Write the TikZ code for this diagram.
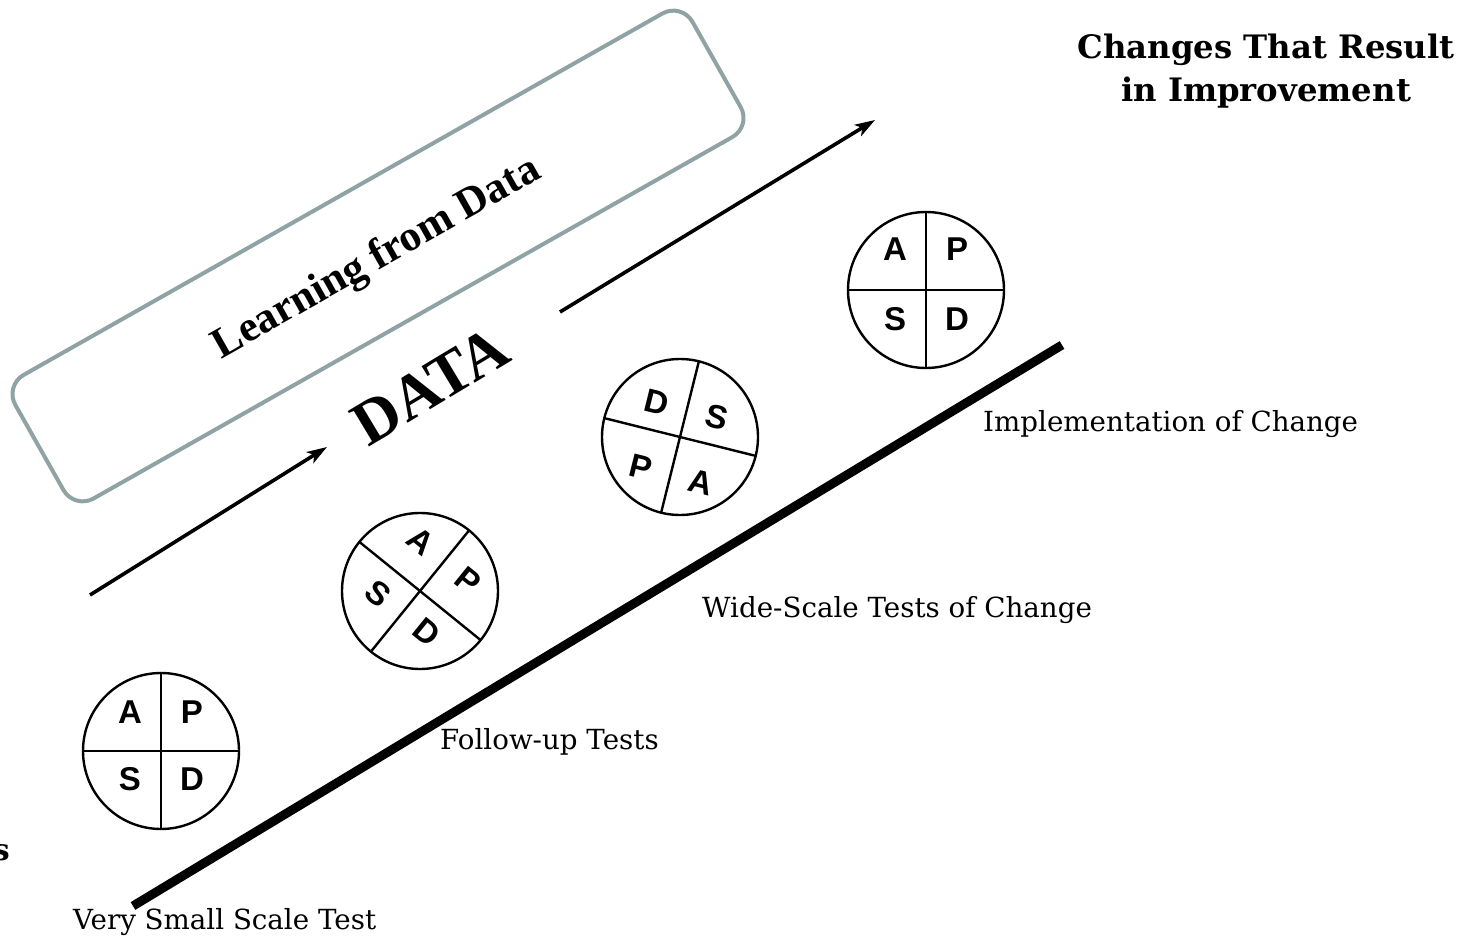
\documentclass[tikz,border=0pt]{standalone}
\usepackage{fontspec}
\usetikzlibrary{arrows.meta}
\newfontfamily\labelfont{DejaVu Serif}
\newfontfamily\timesfont{Liberation Serif}
\newfontfamily\arialfont{Liberation Sans}
\definecolor{boxgray}{HTML}{8FA3A5}
\tikzset{
  stagelabel/.style={font=\labelfont\fontsize{27.7}{32}\selectfont, inner sep=0pt},
  pdsaring/.style={circle, draw, line width=2.4pt, minimum size=156pt, inner sep=0pt},
  pdsaletter/.style={font=\arialfont\bfseries\fontsize{33}{36}\selectfont, inner sep=0pt},
  flowarrow/.style={line width=3.6pt, -{Stealth[length=20pt, width=13pt, inset=5pt]}},
}
\begin{document}
\begin{tikzpicture}[x=1pt, y=-1pt]
\useasboundingbox (0,0) rectangle (1470,944);

% rounded box with the learning caption
\node[draw=boxgray, line width=4pt, rounded corners=22pt, minimum width=778pt,
      minimum height=142pt, rotate=29.5] (learnbox) at (378,256) {};
\node[font=\timesfont\bfseries\fontsize{43}{46}\selectfont, rotate=29.5, inner sep=0pt]
      (learn) at (377,259) {Learning from Data};

% DATA label and the two flow arrows
\node[font=\timesfont\bfseries\fontsize{63}{66}\selectfont, rotate=31, inner sep=0pt]
      (data) at (430,386) {DATA};
\coordinate (a1s) at (90,595);
\coordinate (a1e) at (327,447);
\coordinate (a2s) at (560,312);
\coordinate (a2e) at (875,120);
\draw[flowarrow] (a1s) -- (a1e);
\draw[flowarrow] (a2s) -- (a2e);

% thick baseline of the ramp
\coordinate (rampS) at (133,906);
\coordinate (rampE) at (1062,345);
\draw[line width=9pt] (rampS) -- (rampE);

% cycle 1: very small scale test
\begin{scope}[shift={(161,751)}]
  \node[pdsaring] (c1) at (0,0) {};
  \draw[line width=2.4pt] (c1.north) -- (c1.south) (c1.west) -- (c1.east);
  \node[pdsaletter] (c1a) at (-31,-39) {A};
  \node[pdsaletter] (c1p) at (31,-39) {P};
  \node[pdsaletter] (c1s) at (-31,28) {S};
  \node[pdsaletter] (c1d) at (31,28) {D};
\end{scope}

% cycle 2: follow-up tests
\begin{scope}[shift={(420,591)}, rotate=-39]
  \node[pdsaring] (c2) at (0,0) {};
  \draw[line width=2.4pt] (0,-78) -- (0,78) (-78,0) -- (78,0);
  \node[pdsaletter, transform shape] (c2a) at (-31,-39) {A};
  \node[pdsaletter, transform shape] (c2p) at (31,-39) {P};
  \node[pdsaletter, transform shape] (c2s) at (-31,28) {S};
  \node[pdsaletter, transform shape] (c2d) at (31,28) {D};
\end{scope}

% cycle 3: wide-scale tests
\begin{scope}[shift={(680,437)}, rotate=-194]
  \node[pdsaring] (c3) at (0,0) {};
  \draw[line width=2.4pt] (0,-78) -- (0,78) (-78,0) -- (78,0);
  \node[pdsaletter, rotate=-14] (c3a) at (-31,-39) {A};
  \node[pdsaletter, rotate=-14] (c3p) at (31,-39) {P};
  \node[pdsaletter, rotate=-14] (c3s) at (-31,28) {S};
  \node[pdsaletter, rotate=-14] (c3d) at (31,28) {D};
\end{scope}

% cycle 4: implementation
\begin{scope}[shift={(926,290)}]
  \node[pdsaring] (c4) at (0,0) {};
  \draw[line width=2.4pt] (c4.north) -- (c4.south) (c4.west) -- (c4.east);
  \node[pdsaletter] (c4a) at (-31,-41) {A};
  \node[pdsaletter] (c4p) at (31,-41) {P};
  \node[pdsaletter] (c4s) at (-31,29) {S};
  \node[pdsaletter] (c4d) at (31,29) {D};
\end{scope}

% stage captions
\node[stagelabel, anchor=west] (l1) at (73,922) {Very Small Scale Test};
\node[stagelabel, anchor=west] (l2) at (440,742) {Follow-up Tests};
\node[stagelabel, anchor=west] (l3) at (702,610) {Wide-Scale Tests of Change};
\node[stagelabel, anchor=west] (l4) at (983,424) {Implementation of Change};

% headings
\node[font=\labelfont\bfseries\fontsize{32.3}{43}\selectfont, align=center, inner sep=0pt]
      (goal) at (1266,71) {Changes That Result\\in Improvement};
\node[font=\labelfont\bfseries\fontsize{30}{36}\selectfont, anchor=east, inner sep=0pt]
      (cut) at (10,853) {s};
\end{tikzpicture}
\end{document}
